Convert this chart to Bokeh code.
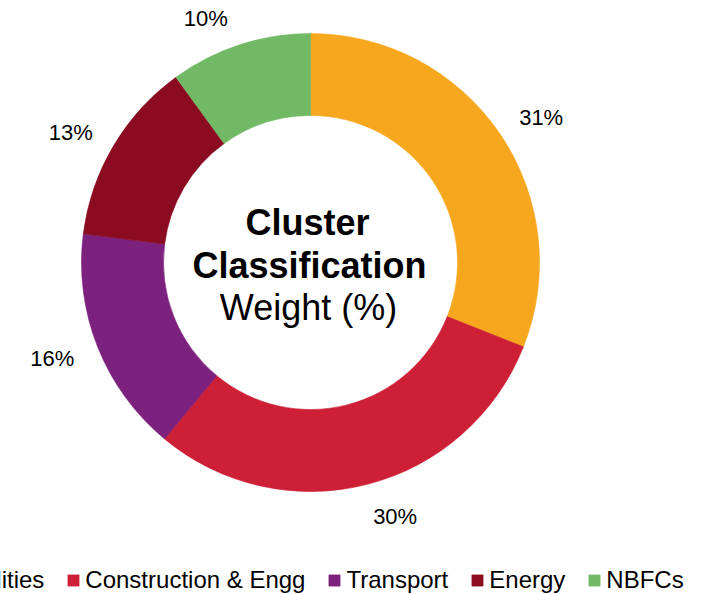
import math
from bokeh.plotting import figure
from bokeh.models import ColumnDataSource, Range1d, Legend, LegendItem
from bokeh.core.properties import value
from bokeh.embed import file_html
from bokeh.resources import INLINE

# ---- data ----
categories = ["Utilities", "Construction & Engg", "Transport", "Energy", "NBFCs"]
weights = [31, 30, 16, 13, 10]
colors = ["#F7A71E", "#CD2036", "#7C217E", "#8B0C20", "#72B966"]
center_lines = ["Cluster", "Classification", "Weight (%)"]

# ---- layout / style ----
W, H = 705, 594
CX, CY = 310, 262          # donut centre in canvas pixels
R_IN, R_OUT = 147, 229
R_LABEL = 268
label_nudge_x = [9, 18, -9, -9, -22]
label_nudge_y = [-6, 6, 3, -6, -11]
FONT = "Liberation Sans"

total = float(sum(weights))
starts, ends, mids = [], [], []
cum = 0.0
for w in weights:
    a0 = math.pi / 2 - 2 * math.pi * cum / total
    cum += w
    a1 = math.pi / 2 - 2 * math.pi * cum / total
    starts.append(a0)
    ends.append(a1)
    mids.append((a0 + a1) / 2)

src = ColumnDataSource(dict(cat=categories, w=weights, color=colors,
                            start=starts, end=ends))

p = figure(width=W, height=H, output_backend="svg", toolbar_location=None,
           x_range=Range1d(-CX, W - CX), y_range=Range1d(CY - H, CY),
           min_border=0)
p.axis.visible = False
p.grid.visible = False
p.outline_line_color = None
p.background_fill_color = "white"
p.border_fill_color = "white"

r = p.annular_wedge(x=0, y=0, inner_radius=R_IN, outer_radius=R_OUT,
                    start_angle="start", end_angle="end", direction="clock",
                    fill_color="color", line_color="color", line_width=0.6,
                    source=src)

# percentage labels
lx = [R_LABEL * math.cos(m) + dx for m, dx in zip(mids, label_nudge_x)]
ly = [R_LABEL * math.sin(m) + dy for m, dy in zip(mids, label_nudge_y)]
lab = ColumnDataSource(dict(x=lx, y=ly, t=[f"{w}%" for w in weights]))
p.text(x="x", y="y", text="t", source=lab, text_align="center",
       text_baseline="middle", text_font=value(FONT), text_font_size="22px",
       text_color="#000000")

# centre title
p.text(x=[-3], y=[40], text=[center_lines[0]], text_align="center",
       text_baseline="alphabetic", text_font=value(FONT), text_font_size="36px",
       text_font_style="bold", text_color="#000000")
p.text(x=[-1], y=[-3], text=[center_lines[1]], text_align="center",
       text_baseline="alphabetic", text_font=value(FONT), text_font_size="36px",
       text_font_style="bold", text_color="#000000")
p.text(x=[-2], y=[-45], text=[center_lines[2]], text_align="center",
       text_baseline="alphabetic", text_font=value(FONT), text_font_size="36px",
       text_color="#000000")

legend = Legend(items=[LegendItem(label=c, renderers=[r], index=i)
                       for i, c in enumerate(categories)],
                orientation="horizontal", location=(-52, 0),
                glyph_width=14, glyph_height=14, label_standoff=5, spacing=22,
                padding=0, margin=0, label_text_font=FONT,
                label_text_font_size="24px", label_text_color="#000000",
                border_line_color=None, background_fill_alpha=0)
p.add_layout(legend)

open("out.html", "w").write(file_html(p, INLINE))
